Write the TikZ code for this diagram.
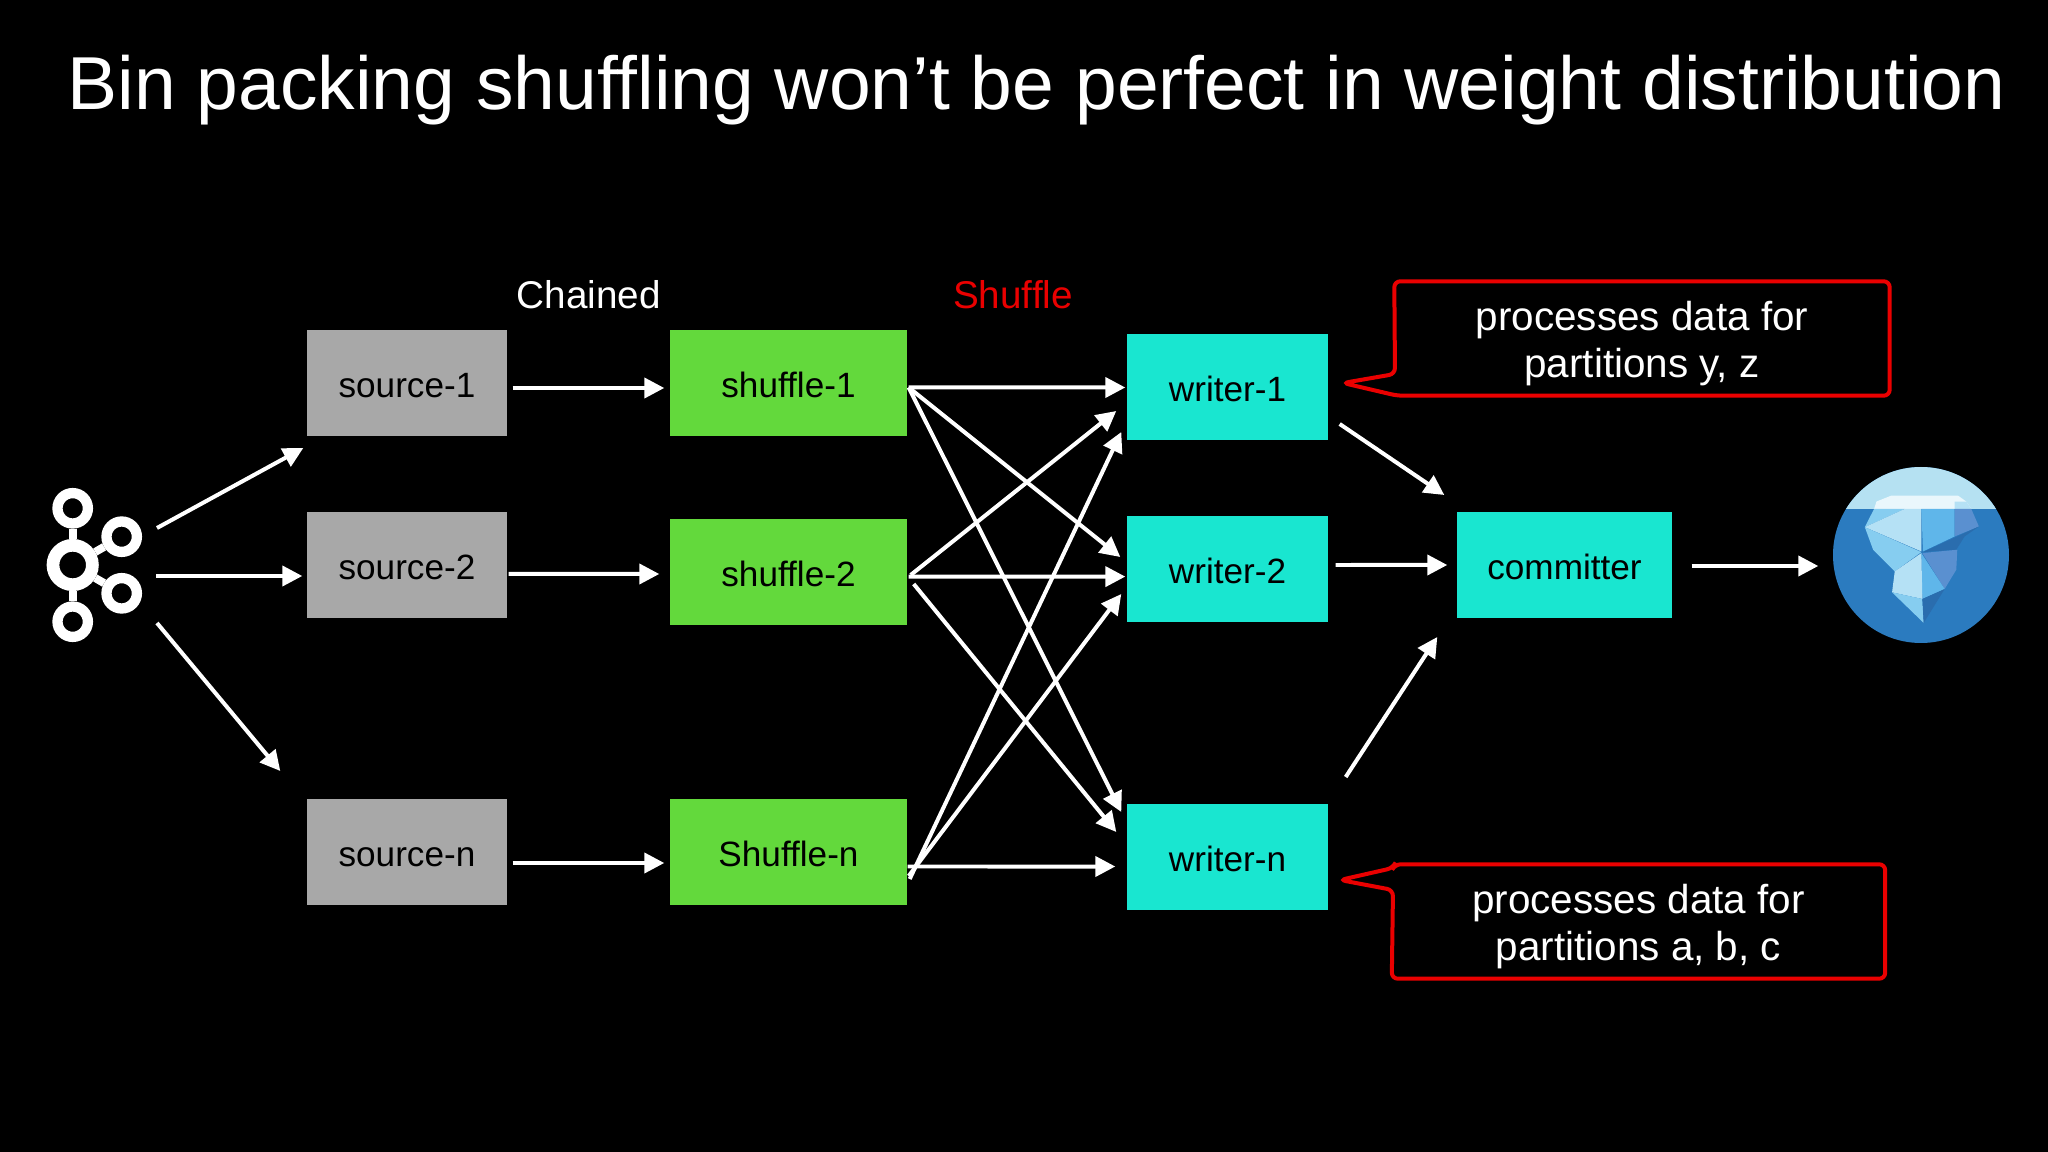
\documentclass[tikz,border=0pt]{standalone}
\usepackage{fontspec}
\setmainfont{Liberation Sans}
\usetikzlibrary{arrows.meta}
\definecolor{srcgray}{HTML}{A8A8A8}
\definecolor{shufgreen}{HTML}{63D93C}
\definecolor{writecyan}{HTML}{19E6D0}
\definecolor{notered}{HTML}{EA0000}
\definecolor{seablue}{HTML}{2B7BBF}
\definecolor{skyblue}{HTML}{B5E1F2}
\definecolor{icecap}{HTML}{EAF7FC}
\definecolor{icepale}{HTML}{B5E1F5}
\definecolor{icemid}{HTML}{86CDF0}
\definecolor{icedeep}{HTML}{5FB6EA}
\definecolor{iceshade}{HTML}{5A90D0}
\definecolor{icedark}{HTML}{2A6DAE}
\tikzset{
	flow/.style={draw=white,line width=0.04cm,-{Triangle[length=0.2cm,width=0.2cm,fill=white]}},
	box/.style={minimum height=1.06cm,inner sep=0pt,text=black,text height=0.29cm,font=\fontsize{10}{12}\selectfont},
	srcbox/.style={box,fill=srcgray,minimum width=2cm},
	shufbox/.style={box,fill=shufgreen,minimum width=2.37cm},
	writebox/.style={box,fill=writecyan,minimum width=2.01cm},
	headlabel/.style={inner sep=0pt,font=\fontsize{11}{13}\selectfont},
	notebox/.style={minimum height=1.13cm,inner sep=0pt},
	notetext/.style={inner sep=0pt,text=white,align=center,font=\fontsize{11.5}{13.4}\selectfont},
	noteline/.style={draw=notered,line width=0.04cm,rounded corners=0.06cm},
	kafkahub/.style={circle,draw=white,line width=0.127cm,minimum size=0.394cm,inner sep=0pt},
	kafkaleaf/.style={circle,draw=white,line width=0.103cm,minimum size=0.304cm,inner sep=0pt},
	kafkalink/.style={draw=white,line width=0.08cm}
}
\begin{document}
\begin{tikzpicture}[x=1cm,y=-1cm]
	\useasboundingbox[fill=black] (0,0) rectangle (20.48,11.52);

	\node[inner sep=0pt,text=white,font=\fontsize{21.35}{26}\selectfont] (title) at (10.365,0.9) {Bin packing shuffling won’t be perfect in weight distribution};
	\node[headlabel,text=white] (chained) at (5.89,2.95) {Chained};
	\node[headlabel,text=notered] (shufflehead) at (10.13,2.95) {Shuffle};

	\node[srcbox] (s1) at (4.07,3.83) {source-1};
	\node[srcbox] (s2) at (4.07,5.65) {source-2};
	\node[srcbox] (sn) at (4.07,8.525) {source-n};

	\node[shufbox] (f1) at (7.885,3.83) {shuffle-1};
	\node[shufbox] (f2) at (7.885,5.72) {shuffle-2};
	\node[shufbox] (fn) at (7.885,8.525) {Shuffle-n};

	\node[writebox] (w1) at (12.275,3.875) {writer-1};
	\node[writebox] (w2) at (12.275,5.695) {writer-2};
	\node[writebox] (wn) at (12.275,8.57) {writer-n};

	\node[box,fill=writecyan,minimum width=2.15cm] (commit) at (15.645,5.655) {committer};

	\node[notebox,minimum width=4.94cm] (n1) at (16.42,3.385) {};
	\node[notebox,minimum width=4.92cm] (n2) at (16.385,9.215) {};
	\node[notetext] (t1) at (16.42,3.44) {processes data for\\partitions y, z};
	\node[notetext] (t2) at (16.385,9.27) {processes data for\\partitions a, b, c};
	\coordinate (tip1) at (13.43,3.83);
	\coordinate (tip2) at (13.40,8.80);

	\draw[noteline] (n1.north west) -- (n1.north east) -- (n1.south east) -- ([xshift=0.03cm]n1.south west) -- (tip1) -- (13.95,3.74) -- cycle;
	\draw[noteline] ([xshift=0.03cm]n2.north west) -- (n2.north east) -- (n2.south east) -- (n2.south west) -- (13.93,8.90) -- (tip2) -- (13.93,8.68) -- cycle;

	\node[kafkahub] (hub) at (0.727,5.65) {};
	\node[kafkaleaf] (k1) at (0.727,5.083) {};
	\node[kafkaleaf] (k2) at (1.217,5.367) {};
	\node[kafkaleaf] (k3) at (1.217,5.933) {};
	\node[kafkaleaf] (k4) at (0.727,6.217) {};
	\draw[kafkalink] (hub) -- (k1);
	\draw[kafkalink] (hub) -- (k2);
	\draw[kafkalink] (hub) -- (k3);
	\draw[kafkalink] (hub) -- (k4);

	\node[circle,fill=seablue,minimum size=1.76cm,inner sep=0pt] (ice) at (19.21,5.55) {};
	\begin{scope}
		\clip (ice.center) circle (0.88cm);
		\begin{scope}[shift={(17.80,4.40)},x=0.00333cm,y=-0.00333cm]
			\fill[skyblue] (0,0) rectangle (804,207);
			\fill[icecap] (283,207) -- (290,185) -- (335,167) -- (535,167) -- (560,185) -- (575,207) -- cycle;
			\fill[icepale] (525,185) -- (560,185) -- (575,207) -- (525,207) -- cycle;
			\fill[icemid] (283,207) -- (375,207) -- (255,262) -- cycle;
			\fill[icepale] (375,207) -- (425,207) -- (425,335) -- (255,262) -- cycle;
			\fill[icemid] (255,262) -- (425,337) -- (345,395) -- (280,330) -- cycle;
			\fill[icedeep] (425,207) -- (525,207) -- (525,290) -- (430,335) -- cycle;
			\fill[iceshade] (525,207) -- (575,207) -- (598,260) -- (525,290) -- cycle;
			\fill[icedark] (430,337) -- (598,260) -- (555,290) -- (530,330) -- cycle;
			\fill[iceshade] (428,340) -- (533,330) -- (530,390) -- (495,448) -- cycle;
			\fill[icedeep] (425,340) -- (495,448) -- (428,478) -- cycle;
			\fill[icepale] (425,340) -- (345,395) -- (337,458) -- (428,478) -- cycle;
			\fill[icemid] (337,458) -- (428,478) -- (432,550) -- cycle;
			\fill[icedark] (428,478) -- (495,448) -- (432,550) -- cycle;
		\end{scope}
	\end{scope}

	\draw[flow] ([shift={(0.843,-0.37)}]hub.center) -- ([shift={(-0.03,0.65)}]s1.west);
	\draw[flow] ([shift={(0.833,0.11)}]hub.center) -- ([shift={(-0.04,0.11)}]s2.west);
	\draw[flow] ([shift={(0.843,0.58)}]hub.center) -- ([shift={(-0.26,-0.815)}]sn.west);

	\draw[flow] ([shift={(0.05,0.05)}]s1.east) -- ([shift={(-0.05,0.05)}]f1.west);
	\draw[flow] ([shift={(0.01,0.09)}]s2.east) -- ([shift={(-0.10,0.02)}]f2.west);
	\draw[flow] ([shift={(0.05,0.105)}]sn.east) -- ([shift={(-0.05,0.105)}]fn.west);

	\draw[flow] ([shift={(0.01,0.045)}]f1.east) -- ([shift={(-0.01,0)}]w1.west);
	\draw[flow] ([shift={(0.01,0.045)}]f1.east) -- ([shift={(-0.06,-0.125)}]w2.west);
	\draw[flow] ([shift={(0.01,0.045)}]f1.east) -- ([shift={(-0.05,-0.45)}]wn.west);
	\draw[flow] ([shift={(0.03,0.03)}]f2.east) -- ([shift={(-0.10,0.235)}]w1.west);
	\draw[flow] ([shift={(0.01,0.046)}]f2.east) -- ([shift={(-0.01,0.071)}]w2.west);
	\draw[flow] ([shift={(0.06,0.12)}]f2.east) -- ([shift={(-0.10,-0.25)}]wn.west);
	\draw[flow] ([shift={(0.02,0.265)}]fn.east) -- ([shift={(-0.05,0.445)}]w1.west);
	\draw[flow] ([shift={(0.01,0.235)}]fn.east) -- ([shift={(-0.05,0.245)}]w2.west);
	\draw[flow] ([shift={(0,0.14)}]fn.east) -- ([shift={(-0.11,0.095)}]wn.west);

	\draw[flow] ([shift={(0.11,0.365)}]w1.east) -- ([shift={(-0.12,-0.705)}]commit.west);
	\draw[flow] ([shift={(0.07,-0.045)}]w2.east) -- ([shift={(-0.09,-0.005)}]commit.west);
	\draw[flow] ([shift={(0.17,-0.80)}]wn.east) -- ([shift={(-0.19,0.715)}]commit.west);
	\draw[flow] ([shift={(0.19,0.005)}]commit.east) -- ([shift={(-0.14,0.11)}]ice.west);
\end{tikzpicture}
\end{document}
